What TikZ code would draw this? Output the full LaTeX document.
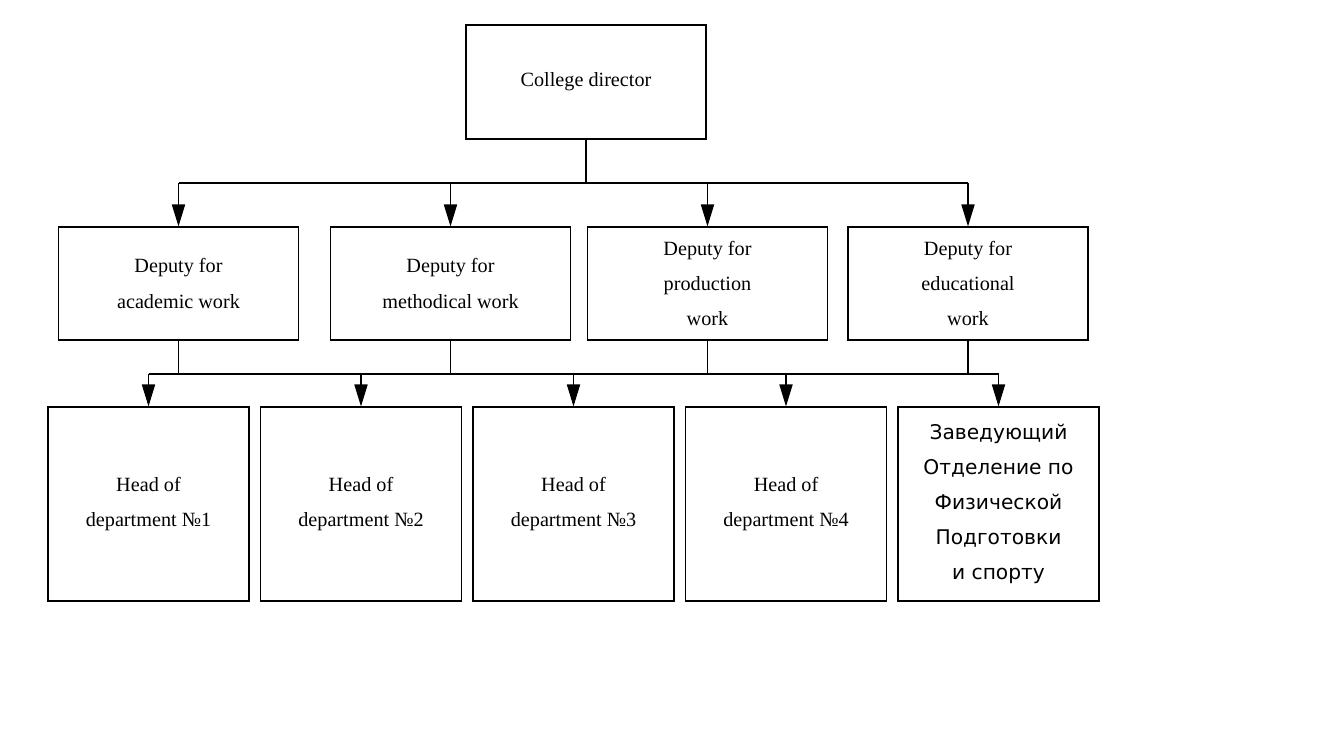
\documentclass[tikz,border=0pt]{standalone}
\usepackage{fontspec}
\setmainfont{Liberation Serif}
\newfontfamily\rufont{DejaVu Sans}
\usetikzlibrary{arrows.meta}
\tikzset{
  post/.style={draw, line width=0.65pt, inner sep=0pt, align=center,
    font=\fontsize{11.5}{20}\selectfont},
  chief/.style={post, minimum width=4.8cm, minimum height=2.28cm},
  deputy/.style={post, minimum width=4.8cm, minimum height=2.26cm},
  head/.style={post, minimum width=4.02cm, minimum height=3.88cm},
  link/.style={line width=0.65pt},
  feed/.style={link, -{Triangle[width=7.5pt,length=12.5pt]}}
}
\begin{document}
\begin{tikzpicture}[x=0.02cm, y=-0.02cm]
      \useasboundingbox (0,0) rectangle (1323,756);
      \draw
        (586,82) node[chief] (dir){College director}
        (178.5,283.5) node[deputy] (d1){Deputy for\\academic work}
        (450.5,283.5) node[deputy] (d2){Deputy for\\methodical work}
        (707.5,283.5) node[deputy] (d3){Deputy for\\production\\work}
        (968,283.5) node[deputy] (d4){Deputy for\\educational\\work}
        (148.5,504) node[head] (h1){Head of\\department №1}
        (361,504) node[head] (h2){Head of\\department №2}
        (573.5,504) node[head] (h3){Head of\\department №3}
        (786,504) node[head] (h4){Head of\\department №4}
        (998.5,504) node[head, font=\rufont\fontsize{11.5}{20}\selectfont] (h5)
          {Заведующий\\Отделение по\\Физической\\Подготовки\\и спорту};
      \coordinate (upbus) at (0,183);
      \coordinate (lowbus) at (0,374);
      % director to deputies
      \draw[link] (dir.south) -- (dir.south |- upbus);
      \draw[link] (d1.north |- upbus) -- (d4.north |- upbus);
      \foreach \i in {1,...,4}
        \draw[feed] (d\i.north |- upbus) -- (d\i.north);
      % deputies to heads
      \foreach \i in {1,...,4}
        \draw[link] (d\i.south) -- (d\i.south |- lowbus);
      \draw[link] (h1.north |- lowbus) -- (h5.north |- lowbus);
      \foreach \i in {1,...,5}
        \draw[feed] (h\i.north |- lowbus) -- (h\i.north);
    \end{tikzpicture}
\end{document}
